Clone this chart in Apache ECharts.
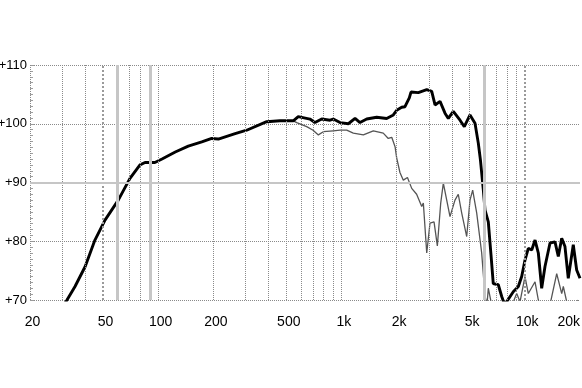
<!DOCTYPE html>
<html><head><meta charset="utf-8">
<script src="https://cdn.jsdelivr.net/npm/echarts@6/dist/echarts.min.js"></script>
<style>html,body{margin:0;padding:0;background:#fff}#c{width:582px;height:388px}</style>
</head><body><div id="c"></div>
<script>
// On-axis response (thick black)
const mainFreq = [30,31.7,35.2,40,45.2,51.3,60.6,70.2,79.6,84.8,96,105,124,146,173,196,213,263,304,391,462,546,581,673,717,780,866,902,982,1090,1186,1262,1373,1556,1764,1918,2000,2130,2220,2344,2394,2624,2918,3106,3238,3448,3670,3826,4074,4432,4678,5024,5350,5576,5728,5940,6068,6322,6540,6730,7168,7482,7700,7962,8650,9218,9616,10024,10448,10908,11370,11850,12360,12884,13724,14612,15232,15896,16560,17260,18380,19180,20000];
const mainDb = [68.8,69.9,72.3,75.7,80.2,83.6,87.0,90.7,93.0,93.4,93.4,94.0,95.2,96.2,96.9,97.5,97.4,98.3,98.9,100.35,100.5,100.5,101.2,100.8,100.2,100.8,100.6,100.8,100.2,100.0,100.9,100.2,100.8,101.1,100.9,101.5,102.3,102.8,102.9,104.4,105.4,105.3,105.8,105.5,103.2,103.8,101.8,100.9,102.1,100.6,99.5,101.5,100.1,96.7,93.8,88.7,85.3,83.3,77.7,72.8,72.6,70.6,69.5,69.7,71.4,72.3,74.0,76.8,78.8,78.5,80.2,78.0,72.0,75.7,79.7,79.9,77.4,80.5,79.1,73.7,79.4,75.1,73.7];
// Off-axis response (thin grey)
const offFreq = [546,570,646,700,748,796,902,982,1068,1160,1316,1492,1690,1800,1880,1960,2000,2084,2174,2290,2416,2570,2740,2796,2918,3040,3198,3334,3478,3594,3750,3908,4160,4336,4528,4820,5024,5196,5466,5818,6068,6220,6322,6592,7320,8300,9032,9416,10024,10448,11370,11850,12412,13724,14928,15896,16220,16928,18090,19500];
const offDb = [100.5,100.2,99.5,98.9,98.1,98.65,98.8,98.9,98.9,98.4,98.1,98.8,98.4,97.5,97.7,96.1,94.2,91.7,90.4,90.85,89.0,88.0,85.9,86.5,78.0,83.1,83.3,79.2,86.5,89.9,87.0,84.2,87.0,88.0,84.8,80.8,87.0,88.7,84.8,78.0,70.6,69.2,72.0,69.2,67.5,68.3,71.1,69.7,74.0,71.1,73.1,70.0,68.3,69.2,74.5,71.1,72.3,69.7,68.3,70.0];
// Grid and tick definitions
const gridFreqs = [20,30,40,50,60,70,80,90,100,200,300,400,500,600,700,800,900,1000,2000,3000,4000,5000,6000,7000,8000,9000,10000];
const tickFreqs = [20,50,100,200,500,1000,2000,5000,10000,20000];
const tickLabels = ['20','50','100','200','500','1k','2k','5k','10k','20k'];
const fMin = 20, fMax = 20000;
const yMin = 70, yMax = 110, yStep = 10;

const FONT = 'Liberation Sans';
const dotted = {color:'#8a8a8a', width:1, type:'dotted'};
function vStyle(f){
  if (f === 60 || f === 90 || f === 6000) return {color:'#c6c6c6', width:3, type:'solid'};
  if (f === 50 || f === 10000) return {color:'#9a9a9a', width:2, type:'dotted'};
  return dotted;
}
const pairs = (fs, vs) => fs.map((f, i) => [f, vs[i]]);

const chart = echarts.init(document.getElementById('c'), null, {renderer:'canvas'});
chart.setOption({
  animation:false,
  backgroundColor:'#fff',
  grid:{left:30, right:2, top:65, bottom:88, containLabel:false, outerBoundsMode:'none'},
  xAxis:[
    {type:'log', logBase:10, min:fMin, max:fMax,
     axisLine:{show:false}, axisTick:{show:false}, axisLabel:{show:false},
     splitLine:{show:false}, minorSplitLine:{show:false}},
    {type:'value', min:Math.log10(fMin), max:Math.log10(fMax), position:'bottom',
     axisLine:{show:false}, axisTick:{show:false}, splitLine:{show:false},
     axisLabel:{customValues: tickFreqs.map(f => Math.log10(f)), margin:15,
       padding:[0,0,0,5],
       fontFamily:FONT, fontSize:14, color:'#000', alignMaxLabel:'right',
       formatter: v => {
         let best = 0, bd = 1e9;
         tickFreqs.forEach((f, i) => { const d = Math.abs(Math.log10(f) - v); if (d < bd) { bd = d; best = i; } });
         return tickLabels[best];
       }}}
  ],
  yAxis:{type:'value', min:yMin, max:yMax, interval:yStep,
    axisLine:{show:false},
    axisTick:{show:true, inside:true, length:4, lineStyle:{color:'#9a9a9a'}},
    minorTick:{show:true, splitNumber:10, length:3, lineStyle:{color:'#a0a0a0'}},
    axisLabel:{formatter: v => '+' + v, fontFamily:FONT, fontSize:13, color:'#000', margin:3},
    splitLine:{show:true, lineStyle:dotted}},
  series:[
    {type:'line', xAxisIndex:0, data:[], silent:true, z:1,
     markLine:{silent:true, symbol:['none','none'], label:{show:false}, animation:false,
       emphasis:{disabled:true},
       data: gridFreqs.map(f => ({xAxis:f, lineStyle:vStyle(f)}))
         .concat([{yAxis:90, lineStyle:{color:'#c6c6c6', width:2, type:'solid'}}])}},
    {type:'line', xAxisIndex:0, data:pairs(offFreq, offDb), symbol:'none', z:3,
     lineStyle:{color:'#555', width:1.3}, clip:true},
    {type:'line', xAxisIndex:0, data:pairs(mainFreq, mainDb), symbol:'none', z:4,
     lineStyle:{color:'#000', width:2.9}, clip:true}
  ]
});
</script></body></html>
